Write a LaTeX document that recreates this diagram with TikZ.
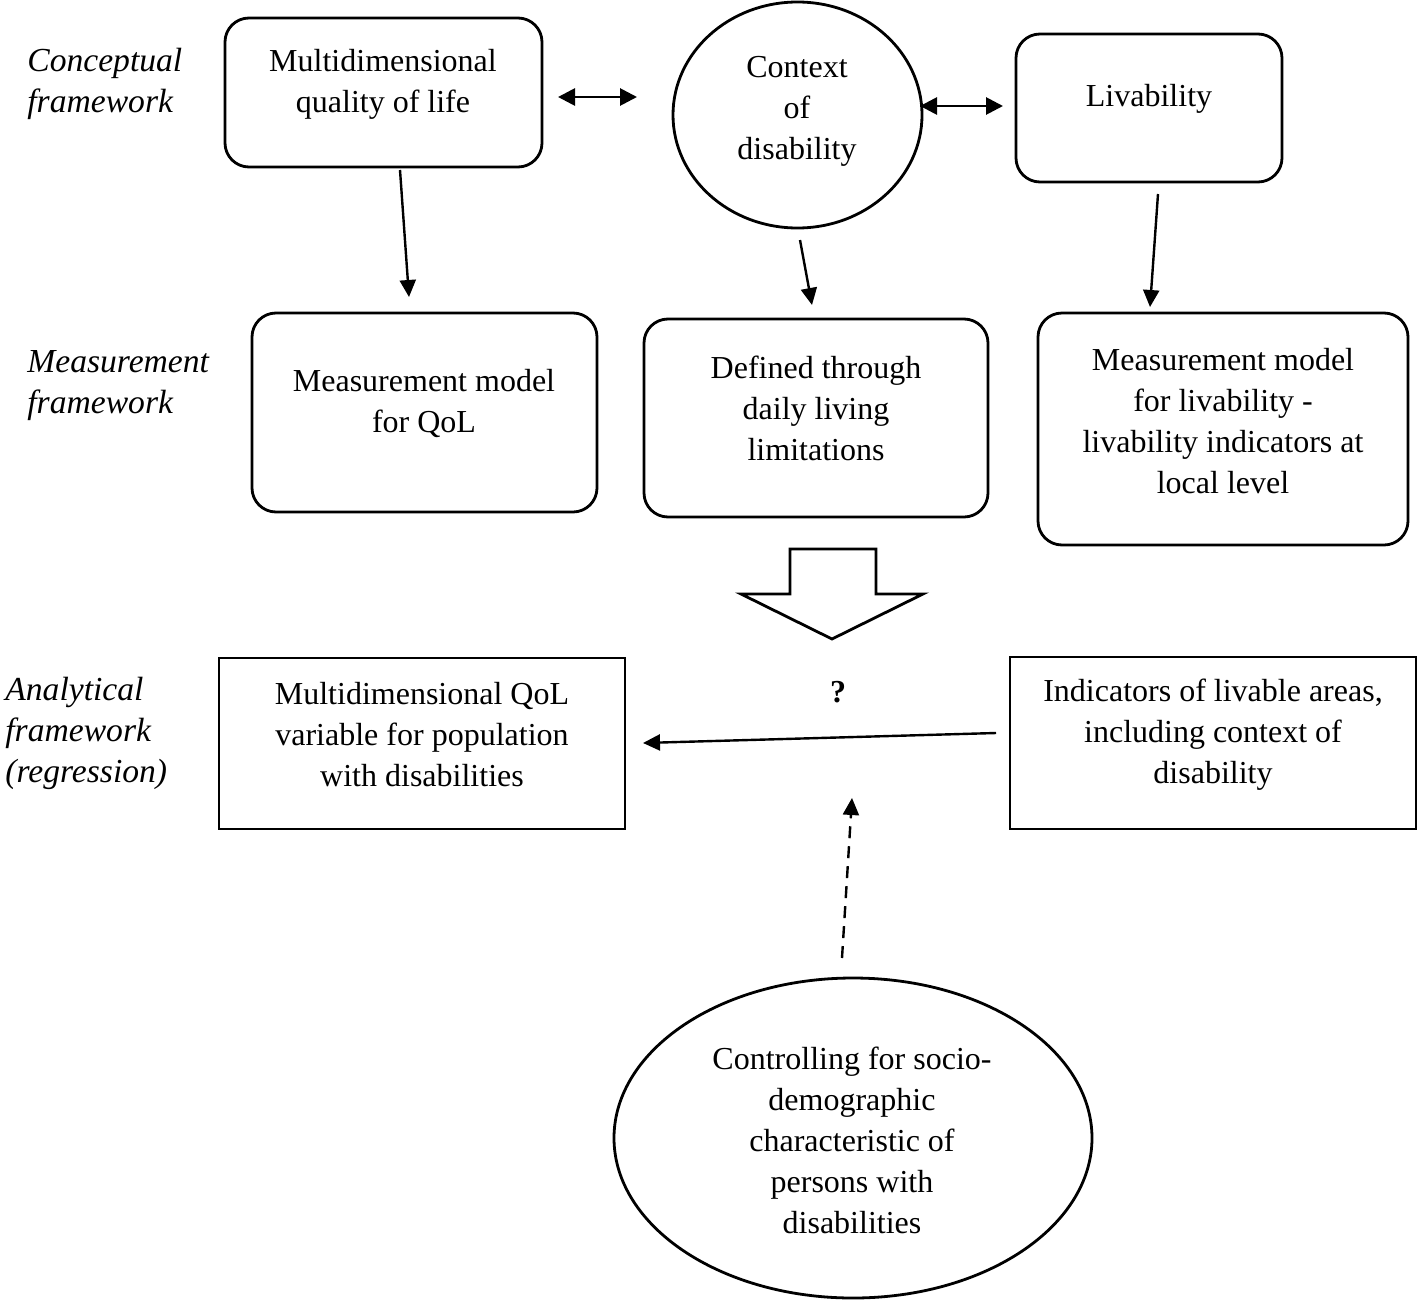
\documentclass[tikz,border=0pt]{standalone}
\usepackage{fontspec}
\setmainfont{Liberation Serif}
\usetikzlibrary{arrows.meta,shapes.geometric}
\begin{document}
\begin{tikzpicture}[x=0.5pt,y=-0.5pt,
  every node/.style={font=\fontsize{16}{20.5}\selectfont},
  rbox/.style={draw,line width=1.4pt,rounded corners=12pt,inner sep=0pt},
  sbox/.style={draw,line width=1.4pt,inner sep=0pt},
  oval/.style={draw,line width=1.4pt,ellipse,inner sep=0pt},
  txt/.style={align=center,inner sep=0pt},
  lbl/.style={align=left,inner sep=0pt,anchor=west,font=\fontsize{16.8}{20.5}\selectfont\itshape},
  arr/.style={line width=1.2pt,-{Triangle[length=8.5pt,width=8pt]}},
  darr/.style={line width=1.4pt,{Triangle[length=8.5pt,width=8.5pt]}-{Triangle[length=8.5pt,width=8.5pt]}}
]
\useasboundingbox[fill=white] (0,0) rectangle (1418,1301);

% left labels
\node[lbl] (lc) at (27,84) {Conceptual\\framework};
\node[lbl] (lm) at (27,386) {Measurement\\framework};
\node[lbl] (la) at (5,733) {Analytical\\framework\\(regression)};

% row 1
\node[rbox,minimum width=158.5pt,minimum height=74.5pt] (b1) at (383.5,92.5) {};
\node[txt] (t1) at (383,84) {Multidimensional\\quality of life};
\node[oval,minimum width=124.5pt,minimum height=113pt] (c1) at (797.5,115) {};
\node[txt] (tc) at (797,111.5) {Context\\of\\disability};
\node[rbox,minimum width=133pt,minimum height=74pt] (b3) at (1149,108) {};
\node[txt] (t3) at (1149,99) {Livability};

% row 2
\node[rbox,minimum width=172.5pt,minimum height=99.5pt] (m1) at (424.5,412.5) {};
\node[txt] (tm1) at (424,403.5) {Measurement model\\for QoL};
\node[rbox,minimum width=172pt,minimum height=99pt] (m2) at (816,418) {};
\node[txt] (tm2) at (816,408.5) {Defined through\\daily living\\limitations};
\node[rbox,minimum width=185pt,minimum height=116pt] (m3) at (1223,429) {};
\node[txt] (tm3) at (1223,421) {Measurement model\\for livability -\\livability indicators at\\local level};

% block arrow
\draw[line width=1.4pt,line join=miter] (790,549) -- (876,549) -- (876,594) -- (923,594) -- (832,639) -- (741,594) -- (790,594) -- cycle;

% row 3
\node[sbox,minimum width=203pt,minimum height=85.5pt] (r1) at (422,743.5) {};
\node[txt] (tr1) at (422,734.5) {Multidimensional QoL\\variable for population\\with disabilities};
\node[sbox,minimum width=203pt,minimum height=86pt] (r2) at (1213,743) {};
\node[txt] (tr2) at (1213,734.5) {Indicators of livable areas,\\including context of\\disability};
\node[inner sep=0pt,font=\fontsize{16}{20.5}\selectfont\bfseries] (q) at (838,692) {?};

% bottom ellipse
\node[oval,minimum width=239pt,minimum height=160pt] (e1) at (853,1138) {};
\node[txt] (te) at (852,1140) {Controlling for socio-\\demographic\\characteristic of\\persons with\\disabilities};

% connector coordinates
\coordinate (d1a) at (558,97);
\coordinate (d1b) at (637,97);
\coordinate (d2a) at (920,106);
\coordinate (d2b) at (1003,106);
\coordinate (a1s) at (400,170);
\coordinate (a1e) at (409,297);
\coordinate (a2s) at (800,240);
\coordinate (a2e) at (812,305);
\coordinate (a3s) at (1158,194);
\coordinate (a3e) at (1150,307);
\coordinate (hs) at (996,733);
\coordinate (he) at (643,743);
\coordinate (vs) at (842,958);
\coordinate (ve) at (852,798);

\draw[darr] (d1a) -- (d1b);
\draw[darr] (d2a) -- (d2b);
\draw[arr] (a1s) -- (a1e);
\draw[arr] (a2s) -- (a2e);
\draw[arr] (a3s) -- (a3e);
\draw[arr] (hs) -- (he);
\draw[arr,dash pattern=on 6pt off 4pt] (vs) -- (ve);
\end{tikzpicture}
\end{document}
